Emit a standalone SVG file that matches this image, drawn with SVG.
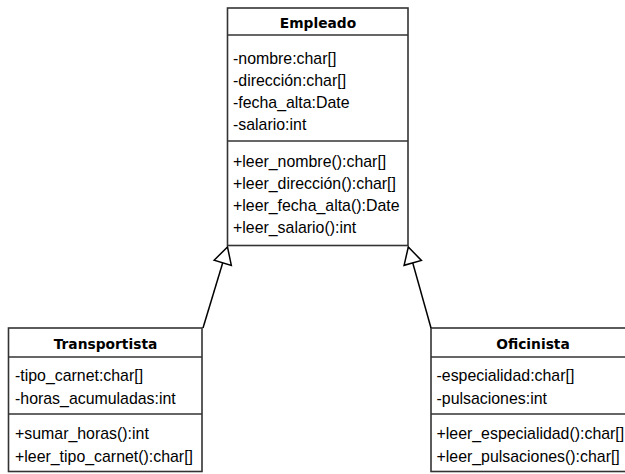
<svg xmlns="http://www.w3.org/2000/svg" width="625" height="474" viewBox="0 0 625 474">
<style>
.box{fill:#fff;stroke:#333;stroke-width:1.6}
.sep{stroke:#333;stroke-width:1.6}
.title{font-family:"DejaVu Sans",sans-serif;font-weight:bold;font-size:13.8px;fill:#000;text-anchor:middle}
.t{font-family:"Liberation Sans",Arial,sans-serif;font-size:15.9px;fill:#000}
.conn{stroke:#000;stroke-width:1.5;fill:none}
</style>
<defs>
<marker id="inh" viewBox="0 0 17 19" refX="17" refY="9.5" markerWidth="17" markerHeight="19" markerUnits="userSpaceOnUse" orient="auto" overflow="visible">
<path d="M0.5,0.5 L17,9.5 L0.5,18.5 Z" fill="#fff" stroke="#000" stroke-width="1.5"/>
</marker>
</defs>
<rect width="625" height="474" fill="#fff"/>
<g id="Empleado">
<rect class="box" x="227.5" y="8" width="180.5" height="237.5"/>
<line class="sep" x1="227.5" y1="35" x2="408" y2="35"/>
<line class="sep" x1="227.5" y1="141" x2="408" y2="141"/>
<text class="title" x="318" y="28">Empleado</text>
<text class="t" x="233" y="64">-nombre:char[]</text>
<text class="t" x="233" y="86">-dirección:char[]</text>
<text class="t" x="233" y="108">-fecha_alta:Date</text>
<text class="t" x="233" y="130">-salario:int</text>
<text class="t" x="233" y="167">+leer_nombre():char[]</text>
<text class="t" x="233" y="189">+leer_dirección():char[]</text>
<text class="t" x="233" y="211">+leer_fecha_alta():Date</text>
<text class="t" x="233" y="233">+leer_salario():int</text>
</g>
<g id="Transportista">
<rect class="box" x="8.5" y="328" width="193.5" height="143.5"/>
<line class="sep" x1="8.5" y1="357" x2="202" y2="357"/>
<line class="sep" x1="8.5" y1="414" x2="202" y2="414"/>
<text class="title" x="105.5" y="349">Transportista</text>
<text class="t" x="15" y="381">-tipo_carnet:char[]</text>
<text class="t" x="15" y="404">-horas_acumuladas:int</text>
<text class="t" x="15" y="439">+sumar_horas():int</text>
<text class="t" x="15" y="462">+leer_tipo_carnet():char[]</text>
</g>
<g id="Oficinista">
<rect class="box" x="431" y="328" width="205" height="143.5"/>
<line class="sep" x1="431" y1="357" x2="636" y2="357"/>
<line class="sep" x1="431" y1="414" x2="636" y2="414"/>
<text class="title" x="533" y="349">Oficinista</text>
<text class="t" x="436.5" y="381">-especialidad:char[]</text>
<text class="t" x="436.5" y="404">-pulsaciones:int</text>
<text class="t" x="436.5" y="439">+leer_especialidad():char[]</text>
<text class="t" x="436.5" y="462">+leer_pulsaciones():char[]</text>
</g>
<g id="connectors">
<path class="conn" d="M203,328 L227.5,247" marker-end="url(#inh)"/>
<path class="conn" d="M431,328 L408.3,247" marker-end="url(#inh)"/>
</g>
</svg>
